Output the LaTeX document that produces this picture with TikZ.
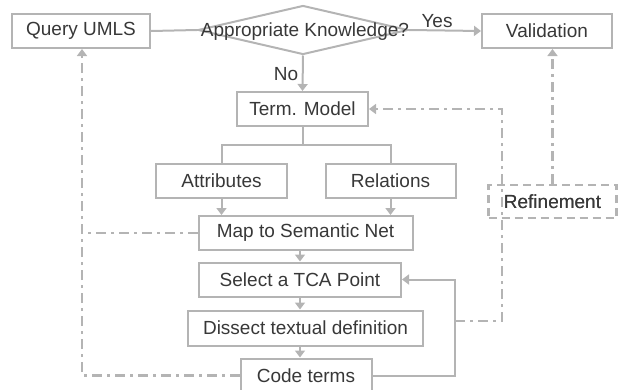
\documentclass[tikz,border=0pt]{standalone}
\usepackage{fontspec}
\setmainfont{Liberation Sans}
\usetikzlibrary{shapes.geometric,arrows.meta}
\definecolor{ln}{HTML}{B4B4B4}
\definecolor{tx}{HTML}{383838}
\begin{document}
\begin{tikzpicture}[x=1pt,y=-1pt,
  every node/.style={font=\fontsize{19}{22}\selectfont, text=tx},
  box/.style={draw=ln, line width=2pt, inner sep=0pt, fill=white},
  dbox/.style={draw=ln, line width=2.2pt, inner sep=0pt, dash pattern=on 8pt off 5pt},
  line/.style={draw=ln, line width=2pt},
  arr/.style={line, -{Triangle[width=10pt,length=7pt]}},
  dd/.style={line width=2.6pt, dash pattern=on 10pt off 5pt on 3pt off 5pt}]
\useasboundingbox (0,0) rectangle (619,389);
% nodes
\node[box, minimum width=138pt, minimum height=34pt] (qu) at (81,31) {Query UMLS};
\node[box, minimum width=130pt, minimum height=34pt] (val) at (547,31) {Validation};
\node[diamond, draw=ln, line width=2pt, inner sep=0pt, minimum width=210pt, minimum height=49pt] (q) at (303,30) {};
\node[inner sep=0pt] (qt) at (305,32) {Appropriate Knowledge?};
\node[box, minimum width=131pt, minimum height=34pt] (tm) at (302.5,109) {Term. Model};
\node[box, minimum width=131pt, minimum height=34pt] (attr) at (221.5,181) {Attributes};
\node[box, minimum width=130pt, minimum height=34pt] (rel) at (390.5,181) {Relations};
\node[box, minimum width=214pt, minimum height=34pt] (map) at (305.5,233) {Map to Semantic Net};
\node[box, minimum width=202pt, minimum height=34pt] (sel) at (300,279.5) {Select a TCA Point};
\node[box, minimum width=235pt, minimum height=35pt] (dis) at (305.5,328) {Dissect textual definition};
\node[box, minimum width=131pt, minimum height=34pt] (code) at (306,375.5) {Code terms};
\node[dbox, minimum width=128pt, minimum height=33pt] (ref) at (552.5,201.5) {Refinement};
\node[inner sep=0pt] (no) at (286,74) {No};
\node[inner sep=0pt] (yes) at (437,21) {Yes};
% connectors
\draw[line] (qu.east) -- (q.west);
\draw[arr] (q.east) -- (val.west);
\draw[arr] (q.south) -- (tm.north);
\coordinate (br) at (302.5,145);
\draw[line] (tm.south) -- (br);
\draw[line] (attr.north) -- (attr.north |- br) -- (rel.north |- br) -- (rel.north);
\draw[arr] (attr.south) -- (attr.south |- map.north);
\draw[arr] (rel.south) -- (rel.south |- map.north);
\draw[arr] (sel.north |- map.south) -- (sel.north);
\draw[arr] (sel.south) -- (sel.south |- dis.north);
\draw[arr] (sel.south |- dis.south) -- (sel.south |- code.north);
\coordinate (lp) at (455,375.5);
\draw[arr] (code.east) -- (lp) |- (sel.east);
\coordinate (j) at (455,321);
\coordinate (jr) at (502,321);
\draw[arr, dd] (j) -- (jr) |- (tm.east);
\draw[arr, dd] (ref.north) -- (ref.north |- val.south);
\coordinate (lc) at (82,375.5);
\draw[arr, dd] (code.west) -- (lc) -- (lc |- qu.south);
\draw[line, dd] (map.west) -- (map.west -| lc);
\node[minimum width=128pt, minimum height=33pt, inner sep=0pt] at (ref) {Refinement};
\end{tikzpicture}
\end{document}
